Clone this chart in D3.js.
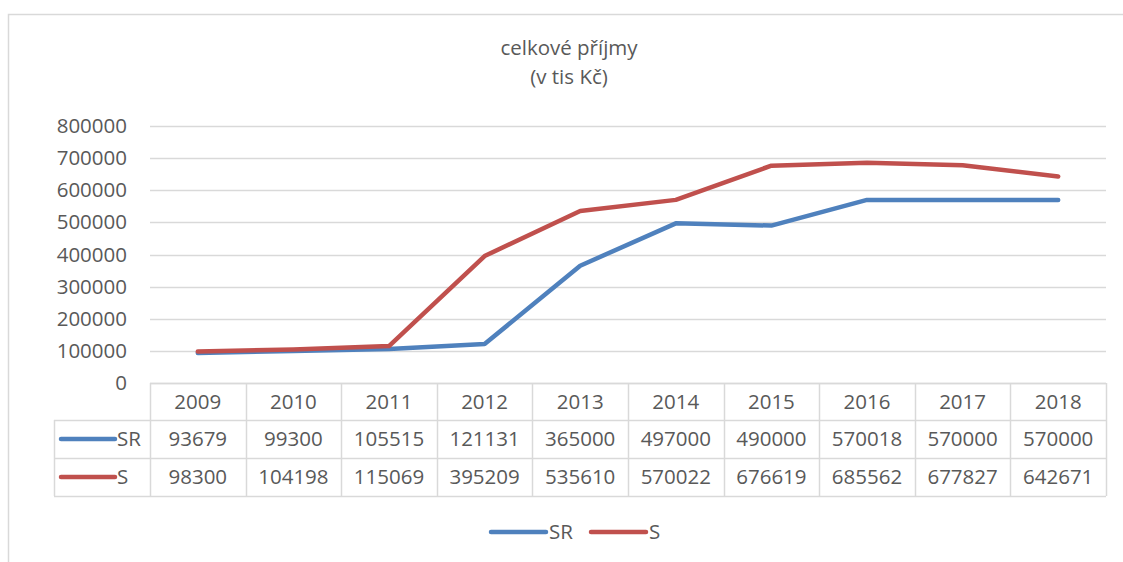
<!DOCTYPE html>
<html>
<head>
<meta charset="utf-8">
<script src="https://cdn.jsdelivr.net/npm/d3@7"></script>
<style>
  body { margin: 0; background: #fff; }
  svg { display: block; }
  text { font-family: 'Open Sans', sans-serif; fill: #595959; font-size: 20.5px; }
</style>
</head>
<body>
<script>
// chart data
const years = ['2009', '2010', '2011', '2012', '2013', '2014', '2015', '2016', '2017', '2018']
const srValues = [93679, 99300, 105515, 121131, 365000, 497000, 490000, 570018, 570000, 570000]
const sValues = [98300, 104198, 115069, 395209, 535610, 570022, 676619, 685562, 677827, 642671]
const yTicks = [0, 100000, 200000, 300000, 400000, 500000, 600000, 700000, 800000]
const titleLines = ['celkové příjmy', '(v tis Kč)']

const series = [
  { name: 'SR', values: srValues, color: '#4f81bd' },
  { name: 'S', values: sValues, color: '#c0504d' },
]

const WIDTH = 1123
const HEIGHT = 562
const GRID = '#d9d9d9'

const svg = d3.select('body')
  .append('svg')
  .attr('width', WIDTH)
  .attr('height', HEIGHT)

// outer chart frame
svg.append('rect')
  .attr('x', 8.5).attr('y', 14.5)
  .attr('width', 1130).attr('height', 560)
  .attr('fill', 'none')
  .attr('stroke', GRID)
  .attr('stroke-width', 1.5)

// title
svg.append('g')
  .selectAll('text')
  .data(titleLines)
  .enter()
  .append('text')
  .attr('x', 569)
  .attr('y', (d, i) => 55 + i * 29)
  .attr('text-anchor', 'middle')
  .text(d => d)

const x = d3.scaleBand()
  .domain(years)
  .range([150, 1106])
  .padding(0)

const y = d3.scaleLinear()
  .domain([0, 800000])
  .range([383, 126])

// gridlines
svg.append('g')
  .selectAll('line')
  .data(yTicks)
  .enter()
  .append('line')
  .attr('x1', 150).attr('x2', 1106)
  .attr('y1', d => Math.round(y(d)) + 0.5)
  .attr('y2', d => Math.round(y(d)) + 0.5)
  .attr('stroke', GRID)
  .attr('stroke-width', 1.5)

// y labels
svg.append('g')
  .selectAll('text')
  .data(yTicks)
  .enter()
  .append('text')
  .attr('x', 127)
  .attr('y', d => y(d) + 7)
  .attr('text-anchor', 'end')
  .text(d => d)

// lines
const line = d3.line()
  .x((d, i) => x(years[i]) + x.bandwidth() / 2)
  .y(d => y(d))

svg.append('g')
  .selectAll('path')
  .data(series)
  .enter()
  .append('path')
  .attr('d', d => line(d.values))
  .attr('fill', 'none')
  .attr('stroke', d => d.color)
  .attr('stroke-width', 4.5)
  .attr('stroke-linecap', 'round')
  .attr('stroke-linejoin', 'round')

// data table
const rowTops = [383, 420, 458, 496]
const table = svg.append('g')

// horizontal rules
table.selectAll('line.h')
  .data(rowTops)
  .enter()
  .append('line')
  .attr('class', 'h')
  .attr('x1', (d, i) => i === 0 ? 150 : 54)
  .attr('x2', 1106)
  .attr('y1', d => d + 0.5)
  .attr('y2', d => d + 0.5)
  .attr('stroke', GRID)
  .attr('stroke-width', 1.5)

// vertical rules
const colEdges = years.map(d => x(d)).concat([x.range()[1]])
table.selectAll('line.v')
  .data(colEdges)
  .enter()
  .append('line')
  .attr('class', 'v')
  .attr('x1', d => Math.round(d) + 0.5)
  .attr('x2', d => Math.round(d) + 0.5)
  .attr('y1', 383)
  .attr('y2', 496)
  .attr('stroke', GRID)
  .attr('stroke-width', 1.5)

table.append('line')
  .attr('x1', 54.5).attr('x2', 54.5)
  .attr('y1', 420).attr('y2', 496)
  .attr('stroke', GRID)
  .attr('stroke-width', 1.5)

// header row
table.selectAll('text.year')
  .data(years)
  .enter()
  .append('text')
  .attr('class', 'year')
  .attr('x', d => x(d) + x.bandwidth() / 2)
  .attr('y', 409)
  .attr('text-anchor', 'middle')
  .text(d => d)

// value rows
series.forEach((s, si) => {
  const cy = (rowTops[si + 1] + rowTops[si + 2]) / 2
  const row = table.append('g')
  row.selectAll('text')
    .data(s.values)
    .enter()
    .append('text')
    .attr('x', (d, i) => x(years[i]) + x.bandwidth() / 2)
    .attr('y', cy + 7)
    .attr('text-anchor', 'middle')
    .text(d => d)
  row.append('line')
    .attr('x1', 61).attr('x2', 115)
    .attr('y1', cy).attr('y2', cy)
    .attr('stroke', s.color)
    .attr('stroke-width', 4.5)
    .attr('stroke-linecap', 'round')
  row.append('text')
    .attr('x', 117)
    .attr('y', cy + 7)
    .text(s.name)
})

// legend
const legendPos = [490, 590]
const legend = svg.append('g')
  .selectAll('g')
  .data(series)
  .enter()
  .append('g')
  .attr('transform', (d, i) => `translate(${legendPos[i]}, 532)`)

legend.append('line')
  .attr('x1', 1).attr('x2', 56)
  .attr('stroke', d => d.color)
  .attr('stroke-width', 4.5)
  .attr('stroke-linecap', 'round')

legend.append('text')
  .attr('x', 59)
  .attr('y', 7)
  .text(d => d.name)
</script>
</body>
</html>
